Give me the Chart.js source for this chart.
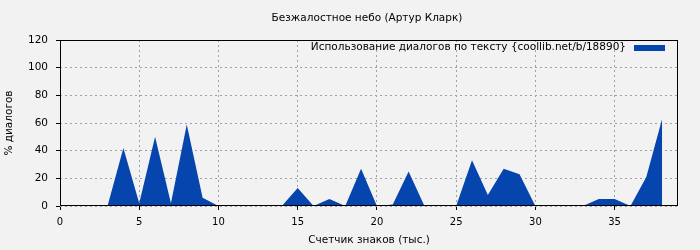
<!DOCTYPE html>
<html>
<head>
<meta charset="utf-8">
<script src="https://cdn.jsdelivr.net/npm/chart.js@4"></script>
<style>
  html, body { margin: 0; padding: 0; background: #f2f2f2; }
  #wrap { width: 700px; height: 250px; position: relative; }
</style>
</head>
<body>
<div id="wrap"><canvas id="chart"></canvas></div>
<script>
// thousands of characters
const positions = [0, 1, 2, 3, 4, 5, 6, 7, 8, 9, 10, 11, 12, 13, 14, 15, 16, 17, 18, 19,
                   20, 21, 22, 23, 24, 25, 26, 27, 28, 29, 30, 31, 32, 33, 34, 35, 36, 37, 38];
// percent of dialogue
const dialogPct = [0, 0, 0, 0, 42, 2, 50, 2, 59, 6, 0, 0, 0, 0, 0, 13, 0, 5, 0, 27,
                   0, 1, 25, 0, 0, 0, 33, 8, 27, 23, 0, 0, 0, 0, 5, 5, 0, 21, 63];
const xTicks = [0, 5, 10, 15, 20, 25, 30, 35];
const yTicks = [0, 20, 40, 60, 80, 100, 120];

const chartTitle = 'Безжалостное небо (Артур Кларк)';
const seriesLabel = 'Использование диалогов по тексту {coollib.net/b/18890}';
const FONT = 'DejaVu Sans';
const BLUE = '#0645ad';

// title, frame and legend drawn by hand like the original plot
const decor = {
    id: 'decor',
    beforeDraw(chart) {
        const ctx = chart.ctx;
        ctx.save();
        ctx.fillStyle = '#f2f2f2';
        ctx.fillRect(0, 0, chart.width, chart.height);
        ctx.restore();
    },
    afterDraw(chart) {
        const ctx = chart.ctx;
        const a = chart.chartArea;
        ctx.save();
        ctx.font = '10.5px "' + FONT + '"';
        ctx.fillStyle = '#000';
        ctx.textAlign = 'center';
        ctx.textBaseline = 'middle';
        ctx.fillText(chartTitle, 367, 18);

        ctx.strokeStyle = '#000';
        ctx.lineWidth = 1;
        ctx.strokeRect(Math.round(a.left) + 0.5, Math.round(a.top) + 0.5,
                       Math.round(a.right - a.left) - 1, Math.round(a.bottom - a.top) - 1);

        ctx.textAlign = 'right';
        ctx.fillText(seriesLabel, a.right - 52, a.top + 7);
        ctx.fillStyle = BLUE;
        ctx.fillRect(a.right - 44, a.top + 5, 31, 6);
        ctx.restore();
    }
};

const gridOpts = {
    color: '#a0a0a0',
    tickColor: '#000',
    tickLength: 4
};

new Chart(document.getElementById('chart'), {
    type: 'line',
    data: {
        datasets: [{
            label: seriesLabel,
            data: positions.map((x, i) => ({ x: x, y: dialogPct[i] })),
            borderColor: BLUE,
            backgroundColor: BLUE,
            borderWidth: 0,
            pointRadius: 0,
            tension: 0,
            fill: 'origin'
        }]
    },
    options: {
        responsive: true,
        maintainAspectRatio: false,
        animation: false,
        layout: { padding: { left: 0, right: 22, top: 40, bottom: 0 } },
        plugins: {
            legend: { display: false },
            title: { display: false },
            tooltip: { enabled: false }
        },
        scales: {
            x: {
                type: 'linear',
                min: 0,
                max: 39,
                afterBuildTicks: axis => { axis.ticks = xTicks.map(v => ({ value: v })); },
                afterFit: axis => { axis.height = 44; },
                grid: gridOpts,
                border: { display: false, dash: [2, 3] },
                ticks: {
                    color: '#000',
                    font: { family: FONT, size: 10 },
                    padding: 6,
                    maxRotation: 0
                },
                title: {
                    display: true,
                    text: 'Счетчик знаков (тыс.)',
                    color: '#000',
                    font: { family: FONT, size: 10.5 },
                    padding: { top: 4, bottom: 3 }
                }
            },
            y: {
                min: 0,
                max: 120,
                afterBuildTicks: axis => { axis.ticks = yTicks.map(v => ({ value: v })); },
                afterFit: axis => { axis.width = 60; },
                grid: gridOpts,
                border: { display: false, dash: [2, 3] },
                ticks: {
                    color: '#000',
                    font: { family: FONT, size: 10.5 },
                    padding: 8
                },
                title: {
                    display: true,
                    text: '% диалогов',
                    color: '#000',
                    font: { family: FONT, size: 10.5 },
                    padding: { top: 3, bottom: 0 }
                }
            }
        }
    },
    plugins: [decor]
});
</script>
</body>
</html>
